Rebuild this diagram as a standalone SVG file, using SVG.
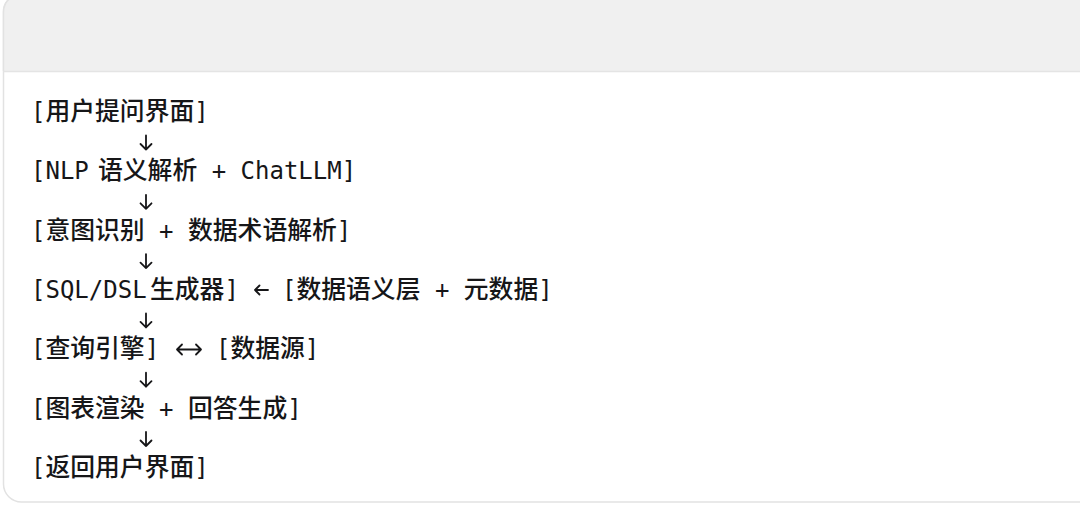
<svg xmlns="http://www.w3.org/2000/svg" width="1080" height="506" viewBox="0 0 1080 506">
<style>
.t{font-family:"DejaVu Sans Mono","Noto Sans CJK SC",monospace;font-size:24px;fill:#161618}
.c{font-family:"Noto Sans CJK SC",sans-serif;font-size:24.8px;font-weight:500}
.arr{fill:none;stroke:#161618;stroke-width:1.8;stroke-linecap:round;stroke-linejoin:round}
</style>
<defs>
<path id="down" d="M0,-7 V7 M-5.5,1.5 L0,7 L5.5,1.5"/>
</defs>
<rect width="1080" height="506" fill="#ffffff"/>
<g id="card">
<path d="M1090,-6 H21.5 A18,18 0 0 0 3.5,12 V484 A18,18 0 0 0 21.5,502 H1090" fill="#ffffff" stroke="#e2e2e2" stroke-width="1.5"/>
<path d="M1090,-6 H21.5 A18,18 0 0 0 3.5,12 V71 H1090 Z" fill="#f0f0f0"/>
<line x1="3.5" y1="71.5" x2="1080" y2="71.5" stroke="#e4e4e4" stroke-width="1.5"/>
<path d="M21.5,-6 A18,18 0 0 0 3.5,12 V71" fill="none" stroke="#e2e2e2" stroke-width="1.5"/>
</g>
<g id="n1"><text class="t" x="31" y="120">[<tspan class="c">用户提问界面</tspan>]</text></g>
<g id="n2"><text class="t" x="31" y="179.3">[NLP<tspan x="98" class="c">语义解析</tspan> + ChatLLM]</text></g>
<g id="n3"><text class="t" x="31" y="238.6">[<tspan class="c">意图识别</tspan> + <tspan class="c">数据术语解析</tspan>]</text></g>
<g id="n4"><text class="t" x="31" y="297.9">[SQL/DSL<tspan x="150" class="c">生成器</tspan>]</text></g>
<g id="n5"><text class="t" x="282" y="297.9">[<tspan class="c">数据语义层</tspan> + <tspan class="c">元数据</tspan>]</text></g>
<g id="n6"><text class="t" x="31" y="357.2">[<tspan class="c">查询引擎</tspan>]</text></g>
<g id="n7"><text class="t" x="216" y="357.2">[<tspan class="c">数据源</tspan>]</text></g>
<g id="n8"><text class="t" x="31" y="416.5">[<tspan class="c">图表渲染</tspan> + <tspan class="c">回答生成</tspan>]</text></g>
<g id="n9"><text class="t" x="31" y="475.8">[<tspan class="c">返回用户界面</tspan>]</text></g>
<g id="connectors" class="arr">
<use href="#down" x="146" y="142.5"/>
<use href="#down" x="146" y="201.8"/>
<use href="#down" x="146" y="261.1"/>
<use href="#down" x="146" y="320.4"/>
<use href="#down" x="146" y="379.7"/>
<use href="#down" x="146" y="439"/>
<path d="M268,290 H255 M259.5,285.5 L255,290 L259.5,294.5"/>
<path d="M177,349.5 H201 M182,344.5 L177,349.5 L182,354.5 M196,344.5 L201,349.5 L196,354.5"/>
</g>
</svg>
